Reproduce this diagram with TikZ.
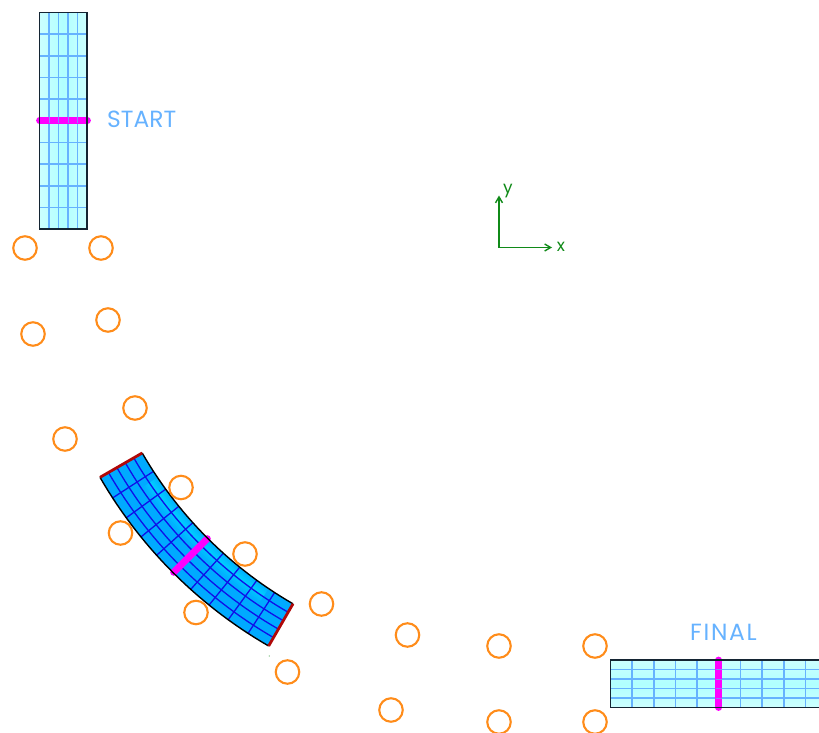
\documentclass[tikz,border=0pt]{standalone}
\usepackage{fontspec}
\setmainfont{Poppins}
\usetikzlibrary{arrows.meta}
\definecolor{barlight}{HTML}{CCFFFF}
\definecolor{barmid}{HTML}{B0FFFF}
\definecolor{gridcol}{HTML}{66B2FF}
\definecolor{ringcol}{HTML}{FF8C1A}
\definecolor{labelcol}{HTML}{66B2FF}
\definecolor{stripcol}{HTML}{00AAFF}
\definecolor{stripglow}{HTML}{00D4FF}
\definecolor{stripgrid}{HTML}{1010E8}
\definecolor{axiscol}{HTML}{108A18}
\definecolor{magcol}{HTML}{FF00FF}
\definecolor{endcol}{HTML}{B00808}
\tikzset{
  barline/.style={gridcol,line width=1.6pt},
  baredge/.style={draw=black!80!gridcol,line width=1.4pt},
  ring/.style={draw=ringcol,line width=2.1pt,circle,minimum size=23.5pt,inner sep=0pt},
  magbar/.style={draw=magcol,line width=6.8pt,line cap=round},
  tag/.style={text=labelcol,font=\fontsize{23.4}{25}\selectfont,inner sep=0pt},
  axistag/.style={text=axiscol,font=\fontsize{17}{18}\selectfont,inner sep=0pt},
  axisline/.style={axiscol,line width=1.4pt,-{Straight Barb[length=6pt,width=7pt]}},
  stripline/.style={stripgrid,line width=1.3pt},
  stripedge/.style={black,line width=1.4pt},
  stripend/.style={endcol,line width=2.8pt}
}
\begin{document}
\begin{tikzpicture}[x=1pt,y=-1pt]
\useasboundingbox (0,0) rectangle (819,733);
\clip (0,0) rectangle (819,733);

% start bar
\shade[left color=barlight,right color=barlight,middle color=barmid] (39.5,12.5) rectangle (87,229);
\foreach \i in {1,2,3,4} \draw[barline] ({39.5+9.5*\i},12.5) -- ({39.5+9.5*\i},229);
\foreach \i in {1,2,3,4,6,7,8,9} \draw[barline] (39.5,{12.5+21.65*\i}) -- (87,{12.5+21.65*\i});
\draw[magbar] (39.5,120.5) -- (87.5,120.5);
\foreach \i in {1,2,3,4} \draw[gridcol,line width=.9pt,opacity=.7] ({39.5+9.5*\i},117.5) -- ({39.5+9.5*\i},123.5);
\draw[baredge] (39.5,12.5) rectangle (87,229);
\node[tag,anchor=west] (start) at (107,119) {START};

% final bar
\shade[top color=barlight,bottom color=barlight,middle color=barmid] (610.5,660) rectangle (825,707.5);
\foreach \i in {1,2,3,4} \draw[barline] (610.5,{660+9.55*\i}) -- (825,{660+9.55*\i});
\foreach \i in {1,2,3,4,6,7,8,9} \draw[barline] ({610.5+21.65*\i},660) -- ({610.5+21.65*\i},707.5);
\draw[magbar] (718.7,660) -- (718.7,707.5);
\foreach \i in {1,2,3,4} \draw[gridcol,line width=.9pt,opacity=.7] (715.7,{660+9.55*\i}) -- (721.7,{660+9.55*\i});
\draw[baredge] (825,660) -- (610.5,660) -- (610.5,707.5) -- (825,707.5);
\node[tag,anchor=west] (final) at (690,632) {\addfontfeature{LetterSpace=7}FINAL};

% axes
\coordinate (origin) at (499,247.5);
\coordinate (xtip) at (552,247.5);
\coordinate (ytip) at (499,195.5);
\draw[axisline] (origin) -- (xtip);
\draw[axisline] (origin) -- (ytip);
\node[axistag] (xlabel) at (561,246.5) {x};
\node[axistag] (ylabel) at (508,191) {y};

% bent strip
\begin{scope}[shift={(499,247)}]
  \fill[stripcol] plot[domain=120:150,samples=31] (\x:412) -- plot[domain=150:120,samples=31] (\x:460.7) -- cycle;
  \foreach \r/\m in {414/25,416/45,418/65,420/80,422/70,424/50,426/35,428/20,430/10} {
    \draw[stripglow!\m!stripcol,line width=2.2pt] plot[domain=124:146,samples=23] (\x:\r);
  }
  \foreach \i in {1,2,3,4} {
    \draw[stripline] plot[domain=120:150,samples=31] (\x:{412+9.74*\i});
  }
  \foreach \a in {123,126,129,132,138,141,144,147} {
    \draw[stripline] (\a:412) -- (\a:460.7);
  }
  \draw[magcol,line width=7pt,line cap=round] (135:412.5) -- (135:460);
  \draw[stripedge] plot[domain=120:150,samples=31] (\x:412);
  \draw[stripedge] plot[domain=120:150,samples=31] (\x:460.7);
  \draw[stripend] (150:412) -- (150:460.7);
  \draw[stripend] (120:412) -- (120:460.7);
\end{scope}
\fill[axiscol!70] (269.3,656) circle (.6);

% rings
\foreach \n/\x/\y in {a/25/248,b/101/248,c/33/334,d/108/320,e/65/439,f/135/408,g/120.5/533,h/181/487.5,i/196/612.5,j/245/554,k/287.5/672,l/321.5/604,m/391/710,n/407.5/635,o/499/722,p/499/646,q/595/722,r/595/646} {
  \node[ring] (ring\n) at (\x,\y) {};
}
\end{tikzpicture}
\end{document}
